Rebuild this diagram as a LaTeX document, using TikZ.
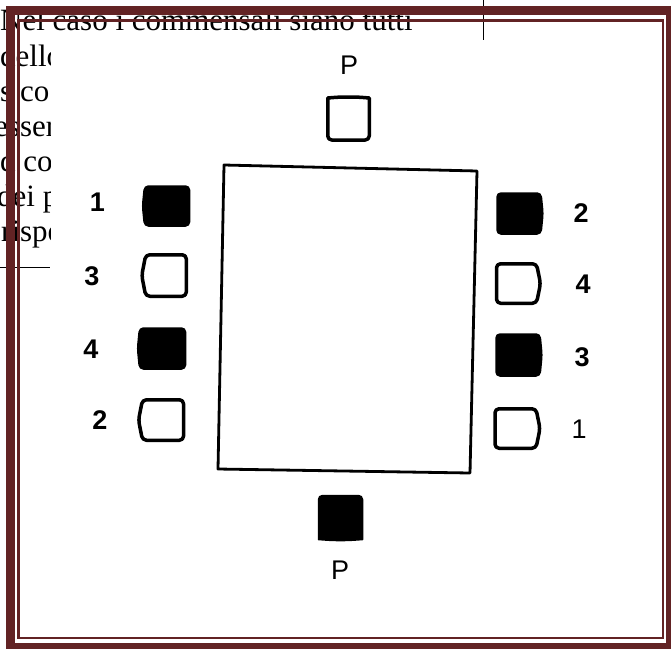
\documentclass[tikz,border=0pt]{standalone}
\usepackage{fontspec}
\setmainfont{Liberation Serif}
\newfontfamily\labelfont{Liberation Sans}
\definecolor{framered}{RGB}{98,35,36}
\begin{document}
\begin{tikzpicture}[x=1pt,y=-1pt,
  seat/.style={rectangle, inner sep=0pt, outer sep=0pt},
  openline/.style={draw=black, line width=3.5pt, rounded corners=4pt, line join=round},
  fullline/.style={draw=black, fill=black, line width=1.5pt, rounded corners=4pt, line join=round},
  boldlab/.style={font=\labelfont\bfseries\fontsize{27}{27}\selectfont, inner sep=0pt},
  plainlab/.style={font=\labelfont\fontsize{27}{27}\selectfont, inner sep=0pt},
  overtext/.style={font=\fontsize{31}{35}\selectfont, anchor=base west, inner sep=0pt},
  tableline/.style={draw=black, line width=2.8pt, line join=round},
  thinrule/.style={draw=black, line width=1pt},
  outerband/.style={draw=framered, line width=9pt},
  innerband/.style={draw=framered, line width=2.6pt}]
\useasboundingbox[fill=white] (0,0) rectangle (671,648);

% overlaid page text
\node[overtext] (t0) at (0,30) {Nel caso i commensali siano tutti};
\begin{scope}
  \clip (0,35) rectangle (50,262);
  \node[overtext] (t1) at (0,66) {dello};
  \node[overtext] (t2) at (0,101) {s co};
  \node[overtext] (t3) at (-6,136) {esser};
  \node[overtext] (t4) at (0,171) {d co};
  \node[overtext] (t5) at (-3,206) {dei p};
  \node[overtext] (t6) at (1,241) {rispe};
\end{scope}
\coordinate (hr1) at (0,267);
\coordinate (hr2) at (50,267);
\draw[thinrule] (hr1) -- (hr2);
\coordinate (vr1) at (483,0);
\coordinate (vr2) at (483,40);
\draw[thinrule] (vr1) -- (vr2);

% table
\coordinate (ta) at (224,165);
\coordinate (tb) at (477,171);
\coordinate (tc) at (470,473);
\coordinate (td) at (218,469);
\draw[tableline] (ta) -- (tb) -- (tc) -- (td) -- cycle;

% seats, left side
\node[seat, minimum width=45pt, minimum height=40pt] (L1) at (167,206) {};
\draw[fullline] (L1.north east) -- (L1.north west) -- ([xshift=-2pt]L1.west) -- (L1.south west) -- (L1.south east) -- cycle;
\node[seat, minimum width=40.5pt, minimum height=41.5pt] (L3) at (166,275.5) {};
\draw[openline] (L3.north east) -- (L3.north west) -- ([xshift=-4pt]L3.west) -- (L3.south west) -- (L3.south east) -- cycle;
\node[seat, minimum width=46pt, minimum height=41pt] (L4) at (162.5,348.5) {};
\draw[fullline] (L4.north east) -- (L4.north west) -- ([xshift=-2pt]L4.west) -- (L4.south west) -- (L4.south east) -- cycle;
\node[seat, minimum width=41pt, minimum height=40.5pt] (L2) at (163,420) {};
\draw[openline] (L2.north east) -- (L2.north west) -- ([xshift=-4pt]L2.west) -- (L2.south west) -- (L2.south east) -- cycle;

% seats, right side
\node[seat, minimum width=44pt, minimum height=41pt] (R2) at (519,213.5) {};
\draw[fullline] (R2.north west) -- (R2.north east) -- ([xshift=2pt]R2.east) -- (R2.south east) -- (R2.south west) -- cycle;
\node[seat, minimum width=40pt, minimum height=39.5pt] (R4) at (516.5,283.5) {};
\draw[openline] (R4.north west) -- (R4.north east) -- ([xshift=4pt]R4.east) -- (R4.south east) -- (R4.south west) -- cycle;
\node[seat, minimum width=44pt, minimum height=42pt] (R3) at (518,355) {};
\draw[fullline] (R3.north west) -- (R3.north east) -- ([xshift=2pt]R3.east) -- (R3.south east) -- (R3.south west) -- cycle;
\node[seat, minimum width=41pt, minimum height=39.5pt] (R1) at (515.5,428.5) {};
\draw[openline] (R1.north west) -- (R1.north east) -- ([xshift=4pt]R1.east) -- (R1.south east) -- (R1.south west) -- cycle;

% head seats
\node[seat, minimum width=41.5pt, minimum height=38pt] (PT) at (348.5,121) {};
\draw[openline] (PT.south west) -- (PT.north west)
  .. controls ([yshift=4pt]PT.north west) and ([xshift=-10pt,yshift=5pt]PT.north) .. ([yshift=5pt]PT.north)
  .. controls ([xshift=10pt,yshift=5pt]PT.north) and ([yshift=4pt]PT.north east) .. (PT.north east)
  -- (PT.south east) -- cycle;
\node[seat, minimum width=44pt, minimum height=40pt] (PB) at (340.5,515.5) {};
\draw[fullline] (PB.north west) -- (PB.north east) -- (PB.south east)
  .. controls ([yshift=-4pt]PB.south east) and ([xshift=10pt,yshift=-5pt]PB.south) .. ([yshift=-5pt]PB.south)
  .. controls ([xshift=-10pt,yshift=-5pt]PB.south) and ([yshift=-4pt]PB.south west) .. (PB.south west) -- cycle;

% labels
\node[boldlab] (lL1) at (97.5,202) {1};
\node[boldlab] (lL3) at (92,276) {3};
\node[boldlab] (lL4) at (91,349) {4};
\node[boldlab] (lL2) at (100,420) {2};
\node[boldlab] (lR2) at (581,213) {2};
\node[boldlab] (lR4) at (583,284) {4};
\node[boldlab] (lR3) at (582,357) {3};
\node[plainlab] (lR1) at (579,429) {1};
\node[plainlab] (lPT) at (349,65) {P};
\node[plainlab] (lPB) at (340,570) {P};

% frame
\coordinate (fo1) at (10,10);
\coordinate (fo2) at (670,647);
\draw[outerband] (fo1) rectangle (fo2);
\coordinate (fi1) at (18.5,20.5);
\coordinate (fi2) at (663,638);
\draw[innerband] (fi1) rectangle (fi2);
\end{tikzpicture}
\end{document}
